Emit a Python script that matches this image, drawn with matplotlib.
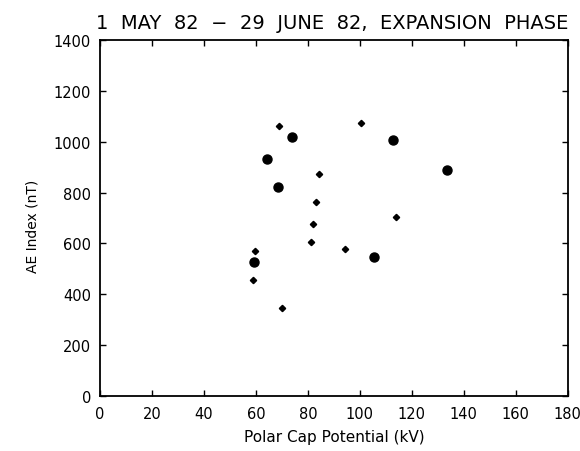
import matplotlib
matplotlib.use("Agg")
import matplotlib.pyplot as plt

# expansion phase events, two marker groups
big_pcp = [73.7, 64.4, 112.6, 133.6, 68.5, 59.3, 105.3]
big_ae = [1018, 933, 1007, 891, 823, 527, 547]

small_pcp = [68.8, 100.6, 84.1, 83.1, 82.1, 81.3, 94.2, 113.8, 59.6, 58.8, 70.0]
small_ae = [1063, 1074, 873, 764, 675, 607, 578, 703, 570, 456, 346]

x_ticks = list(range(0, 181, 20))
y_ticks = list(range(0, 1401, 200))

fig = plt.figure(figsize=(5.8, 4.52), dpi=100)
ax = fig.add_axes([0.1724, 0.1217, 0.8066, 0.7873])

ax.plot(small_pcp, small_ae, "D", color="black", markersize=3.2, linestyle="none")
ax.plot(big_pcp, big_ae, "o", color="black", markersize=6.5, linestyle="none")

ax.set_xlim(0, 180)
ax.set_ylim(0, 1400)
ax.set_xticks(x_ticks)
ax.set_yticks(y_ticks)
ax.tick_params(axis="both", direction="in", length=4, width=1, top=True, right=True)
ax.tick_params(axis="x", labelsize=10.5, pad=7)
ax.tick_params(axis="y", labelsize=10.5, pad=6.5)
for s in ax.spines.values():
    s.set_linewidth(1.3)

ax.set_xlabel("Polar Cap Potential (kV)", fontsize=11, va="center")
ax.xaxis.set_label_coords(0.5, -0.115)
ax.set_ylabel("AE Index (nT)", fontsize=10, va="center")
ax.yaxis.set_label_coords(-0.145, 0.48)
fig.text(0.165, 0.949, "1  MAY  82  \u2212  29  JUNE  82,  EXPANSION  PHASE", fontsize=14,
         ha="left", va="center")

fig.savefig("out.png", dpi=100)
plt.close(fig)
